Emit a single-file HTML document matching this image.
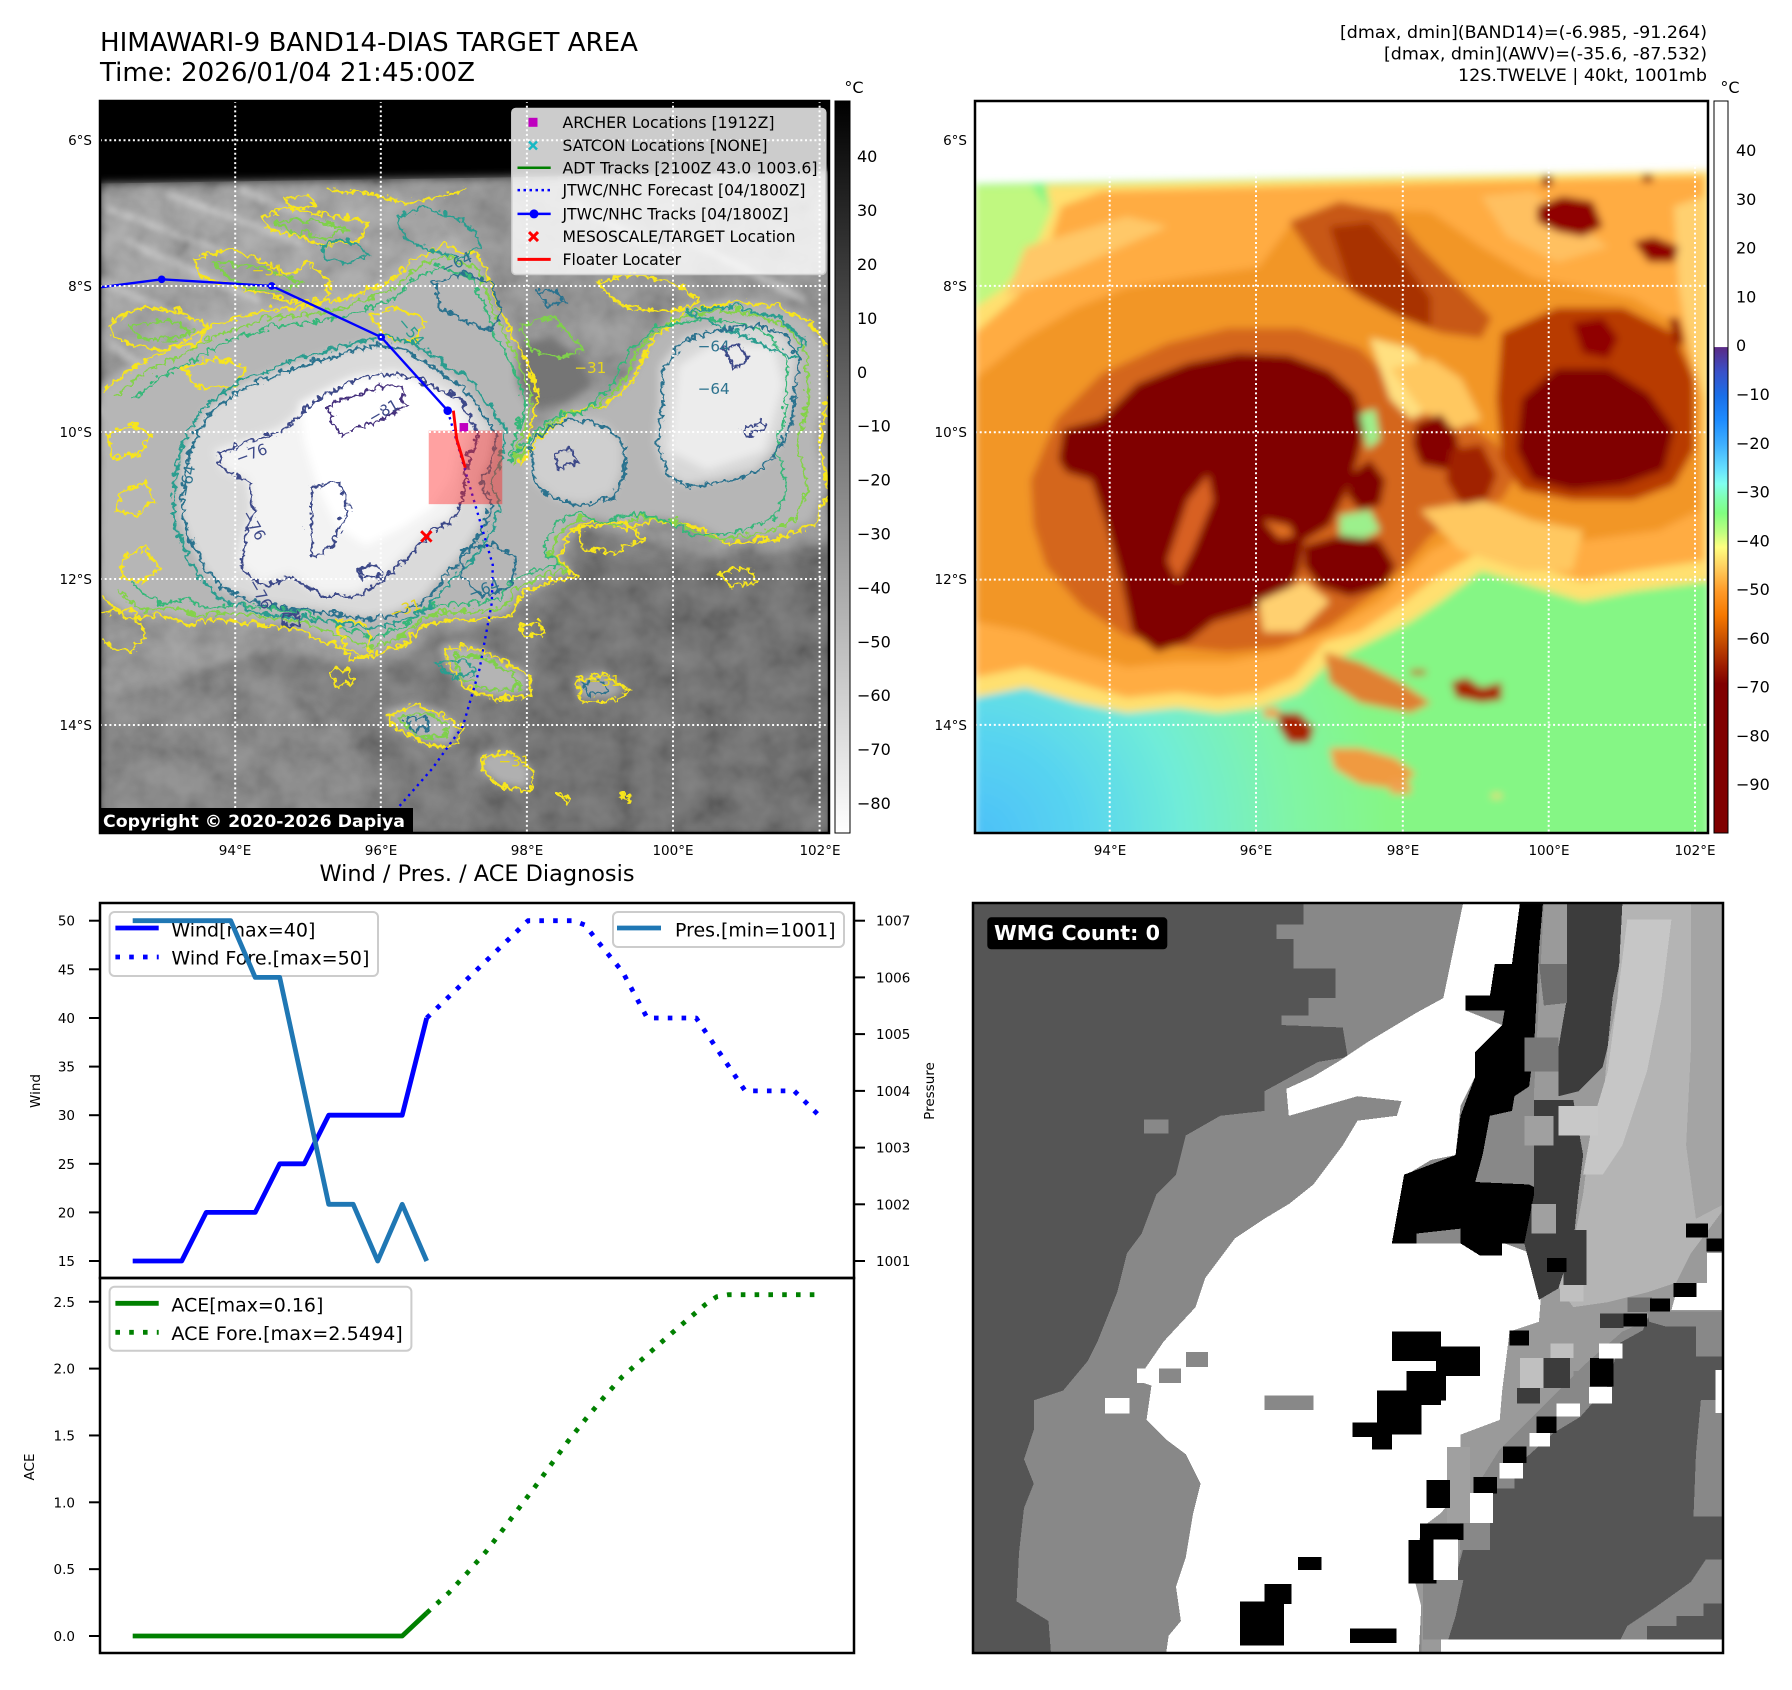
<!DOCTYPE html>
<html><head><meta charset="utf-8"><style>
html,body{margin:0;padding:0;background:#fff;}
svg{display:block;}
text{font-family:"DejaVu Sans","Liberation Sans",sans-serif;}
</style></head><body>
<svg xmlns="http://www.w3.org/2000/svg" xmlns:xlink="http://www.w3.org/1999/xlink" width="1792" height="1690" viewBox="0 0 1792 1690">
<defs>
 <clipPath id="cL"><rect x="100" y="101" width="729" height="732"/></clipPath>
 <clipPath id="cR"><rect x="975" y="101" width="733" height="732"/></clipPath>
 <clipPath id="cB"><rect x="973" y="903" width="750" height="750"/></clipPath>
 <clipPath id="cT"><rect x="100" y="903" width="754" height="375"/></clipPath>
 <clipPath id="cA"><rect x="100" y="1278" width="754" height="375"/></clipPath>
 <filter id="blur8" x="-5%" y="-5%" width="110%" height="110%"><feGaussianBlur stdDeviation="9"/></filter>
 <filter id="blur5" x="-5%" y="-5%" width="110%" height="110%"><feGaussianBlur stdDeviation="8"/></filter>
 <filter id="blur3" x="-10%" y="-10%" width="120%" height="120%"><feGaussianBlur stdDeviation="6"/></filter>
 <filter id="wig" x="-5%" y="-5%" width="110%" height="110%">
   <feTurbulence type="turbulence" baseFrequency="0.045" numOctaves="2" seed="7" result="t"/>
   <feDisplacementMap in="SourceGraphic" in2="t" scale="22" xChannelSelector="R" yChannelSelector="G"/>
 </filter>
 <filter id="noise" x="0" y="0" width="100%" height="100%">
   <feTurbulence type="fractalNoise" baseFrequency="0.015" numOctaves="3" seed="11"/>
   <feColorMatrix type="matrix" values="1 0 0 0 0  1 0 0 0 0  1 0 0 0 0  0 0 0 0 0.25"/>
   <feComposite in2="SourceGraphic" operator="in"/>
 </filter>
 <linearGradient id="gGray" x1="0" y1="0" x2="0" y2="1">
   <stop offset="0" stop-color="#000"/><stop offset="1" stop-color="#fff"/>
 </linearGradient>
 <linearGradient id="gCol" x1="0" y1="0" x2="0" y2="1">
   <stop offset="0" stop-color="#fff"/>
   <stop offset="0.336" stop-color="#fff"/>
   <stop offset="0.3365" stop-color="#5b2a86"/>
   <stop offset="0.3696" stop-color="#3a50c8"/>
   <stop offset="0.4029" stop-color="#1a6fe8"/>
   <stop offset="0.4362" stop-color="#1e8cff"/>
   <stop offset="0.4696" stop-color="#3fb0ff"/>
   <stop offset="0.5029" stop-color="#66e0ff"/>
   <stop offset="0.5229" stop-color="#80fff0"/>
   <stop offset="0.5429" stop-color="#80ffb0"/>
   <stop offset="0.5629" stop-color="#80ff80"/>
   <stop offset="0.5895" stop-color="#c0ff80"/>
   <stop offset="0.6095" stop-color="#ffff80"/>
   <stop offset="0.6362" stop-color="#ffd060"/>
   <stop offset="0.6696" stop-color="#ff9a28"/>
   <stop offset="0.7029" stop-color="#f57800"/>
   <stop offset="0.7362" stop-color="#c85000"/>
   <stop offset="0.7696" stop-color="#a02000"/>
   <stop offset="0.7962" stop-color="#800000"/>
   <stop offset="1" stop-color="#800000"/>
 </linearGradient>
 <radialGradient id="cyg" gradientUnits="userSpaceOnUse" cx="0" cy="1470" r="820">
   <stop offset="0" stop-color="#4cc0f8"/>
   <stop offset="0.25" stop-color="#58d4f0"/>
   <stop offset="0.5" stop-color="#70ecd8"/>
   <stop offset="0.75" stop-color="#80f4a8"/>
   <stop offset="1" stop-color="#85f685"/>
 </radialGradient>
 <path id="ym" fill="none" d="M0,610 L60,560 140,520 230,470 330,440 430,430 520,410 600,380 660,330 720,300 800,330 830,420 870,500 900,560 920,620 900,690 880,760 930,700 990,650 1060,640 1120,580 1160,500 1230,440 1330,420 1420,430 1490,460 1530,520 1530,620 1510,720 1530,820 1500,890 1420,920 1320,930 1240,890 1160,880 1100,900 1040,880 990,900 960,960 1000,1000 940,1010 880,1040 860,1080 800,1090 740,1090 680,1100 640,1140 560,1170 480,1140 400,1110 320,1100 240,1090 180,1100 120,1080 60,1090 20,1060 0,1040"/>
 <path id="tc" fill="none" d="M170,820 L180,740 220,660 300,600 400,560 500,530 580,510 640,520 700,560 760,600 800,650 830,700 820,760 800,800 820,850 800,900 760,960 720,1000 680,1050 620,1080 560,1090 500,1080 420,1070 340,1060 260,1030 220,990 190,930 170,880 Z"/>
 <path id="tr" fill="none" d="M1180,560 L1230,500 1300,480 1380,470 1440,490 1470,540 1460,610 1450,680 1420,740 1380,780 1300,800 1230,810 1190,780 1170,720 1180,640 Z"/>
</defs>

<rect x="0" y="0" width="1792" height="1690" fill="#fff"/>

<!-- Titles -->
<text x="100" y="51" font-size="26" textLength="538" lengthAdjust="spacingAndGlyphs">HIMAWARI-9 BAND14-DIAS TARGET AREA</text>
<text x="100" y="81" font-size="26" textLength="375" lengthAdjust="spacingAndGlyphs">Time: 2026/01/04 21:45:00Z</text>
<text x="1707" y="38" font-size="16.5" text-anchor="end" textLength="367" lengthAdjust="spacingAndGlyphs">[dmax, dmin](BAND14)=(-6.985, -91.264)</text>
<text x="1707" y="59.5" font-size="16.5" text-anchor="end" textLength="323" lengthAdjust="spacingAndGlyphs">[dmax, dmin](AWV)=(-35.6, -87.532)</text>
<text x="1707" y="81" font-size="16.5" text-anchor="end" textLength="249" lengthAdjust="spacingAndGlyphs">12S.TWELVE | 40kt, 1001mb</text>

<!-- ================= LEFT MAP ================= -->
<g clip-path="url(#cL)">
 <g transform="translate(100,100) scale(0.474359)">
  <rect x="0" y="0" width="1560" height="1560" fill="#000"/>
  <g filter="url(#blur8)">
   <polygon points="0,176 860,163 1545,150 1545,1550 0,1550" fill="#686868"/>
   <polygon points="0,176 860,163 1545,150 1545,930 1420,950 1300,960 1150,930 1020,900 960,980 900,1060 800,1110 700,1130 620,1190 480,1190 380,1160 280,1180 150,1230 0,1260" fill="#8a8a8a"/>
   <polygon points="960,1000 1100,960 1300,990 1545,960 1545,1550 760,1550 820,1420 900,1250 940,1120" fill="#5c5c5c"/>
   <polygon points="0,1260 150,1230 300,1200 450,1250 560,1380 600,1550 0,1550" fill="#787878"/>
   <polygon points="0,200 300,190 560,185 700,210 760,300 700,370 560,420 400,440 250,480 120,530 0,560" fill="#9c9c9c"/>
  </g>
  <g filter="url(#blur3)" stroke="#c4c4c4" stroke-width="16" opacity="0.75" stroke-linecap="round">
   <line x1="20" y1="230" x2="260" y2="320"/><line x1="60" y1="300" x2="330" y2="420"/><line x1="0" y1="380" x2="200" y2="470"/>
   <line x1="150" y1="200" x2="420" y2="300"/><line x1="300" y1="190" x2="560" y2="300"/><line x1="30" y1="520" x2="160" y2="610"/>
   <line x1="0" y1="650" x2="120" y2="760"/><line x1="1250" y1="300" x2="1480" y2="420"/><line x1="1000" y1="220" x2="1200" y2="330"/>
  </g>
  <polygon points="0,176 860,163 1545,150 1545,1550 0,1550" fill="#808080" filter="url(#noise)"/>
  <g filter="url(#blur8)">
   <polygon points="880,520 950,500 1010,540 1040,600 980,640 910,650 880,600" fill="#6a6a6a"/>
   <path d="M0,610 L60,560 140,520 230,470 330,440 430,430 520,410 600,380 660,330 720,300 800,330 830,420 870,500 900,560 920,620 900,690 880,760 930,700 990,650 1060,640 1120,580 1160,500 1230,440 1330,420 1420,430 1490,460 1530,520 1530,620 1510,720 1530,820 1500,890 1420,920 1320,930 1240,890 1160,880 1100,900 1040,880 990,900 960,960 1000,1000 940,1010 880,1040 860,1080 800,1090 740,1090 680,1100 640,1140 560,1170 480,1140 400,1110 320,1100 240,1090 180,1100 120,1080 60,1090 20,1060 0,1040 Z" fill="#b6b6b6"/>
   <polygon points="880,520 950,500 1010,540 1040,600 980,640 910,650 880,600" fill="#747474"/>
   <polygon points="720,1150 790,1150 850,1180 900,1210 900,1250 830,1260 760,1230 730,1190" fill="#b4b4b4"/>
   <polygon points="600,1290 660,1270 720,1290 760,1320 740,1360 680,1352 620,1322" fill="#b4b4b4"/>
   <polygon points="800,1380 860,1368 910,1410 900,1452 840,1442 800,1410" fill="#b0b0b0"/>
   <polygon points="1000,1220 1060,1205 1110,1240 1080,1262 1010,1262" fill="#aaaaaa"/>
   <path d="M170,820 L180,740 220,660 300,600 400,560 500,530 580,510 640,520 700,560 760,600 800,650 830,700 820,760 800,800 820,850 800,900 760,960 720,1000 680,1050 620,1080 560,1090 500,1080 420,1070 340,1060 260,1030 220,990 190,930 170,880 Z" fill="#dadada"/>
   <path d="M1180,560 L1230,500 1300,480 1380,470 1440,490 1470,540 1460,610 1450,680 1420,740 1380,780 1300,800 1230,810 1190,780 1170,720 1180,640 Z" fill="#d8d8d8"/>
   <polygon points="900,720 950,680 1000,670 1060,680 1100,720 1100,780 1080,830 1020,850 960,840 910,800" fill="#cfcfcf"/>
   <polygon points="240,740 300,720 380,690 460,620 540,580 620,570 700,600 760,630 790,700 770,760 760,830 740,880 700,900 640,960 600,1000 540,1040 460,1040 400,1000 340,1020 290,980 300,920 320,860 310,800 260,780" fill="#f3f3f3"/>
   <polygon points="1220,560 1300,510 1420,520 1440,600 1400,740 1280,780 1200,740" fill="#ececec"/>
   <polygon points="420,640 520,590 640,580 720,620 760,700 740,800 700,860 640,900 560,940 500,900 460,820 430,720" fill="#ffffff"/>
  </g>
  <!-- contours -->
  <g filter="url(#wig)" fill="none" stroke-width="5" stroke-linejoin="round">
   <use xlink:href="#ym" href="#ym" stroke="#f7e51f"/>
   <use xlink:href="#ym" href="#ym" stroke="#84d24a" transform="translate(640,760) scale(0.95) translate(-640,-760)"/>
   <use xlink:href="#ym" href="#ym" stroke="#35b779" transform="translate(640,760) scale(0.9) translate(-640,-760)"/>
   <g stroke="#f7e51f">
    <polygon points="190,330 260,310 330,330 390,360 440,340 480,380 470,420 400,420 330,400 250,380 200,360"/>
    <polygon points="340,240 400,222 480,240 560,250 540,290 470,300 400,280 350,270"/>
    <polygon points="20,460 80,430 160,440 220,470 200,510 120,520 60,510 20,490"/>
    <polyline points="480,185 560,190 640,212 700,200 770,180"/>
    <polygon points="560,450 620,430 680,460 660,500 600,500"/>
    <polygon points="170,560 240,540 300,560 280,600 200,600"/>
    <polygon points="10,700 60,680 100,700 80,740 20,750"/>
    <polygon points="1040,380 1120,360 1200,380 1260,420 1200,440 1100,430"/>
    <polygon points="720,1150 790,1150 850,1180 900,1210 900,1250 830,1260 760,1230 730,1190"/>
    <polygon points="1000,1220 1060,1205 1110,1240 1080,1262 1010,1262"/>
    <polygon points="600,1290 660,1270 720,1290 760,1320 740,1360 680,1352 620,1322"/>
    <polygon points="800,1380 860,1368 910,1410 900,1452 840,1442 800,1410"/>
    <polygon points="495,1090 560,1100 565,1160 520,1175"/>
    <polyline points="0,1080 60,1062 90,1120 60,1160 20,1150 0,1130"/>
    <polygon points="1000,900 1100,880 1140,920 1080,950 1010,940"/>
    <polygon points="960,1460 985,1462 980,1478"/>
    <polygon points="1090,1460 1112,1458 1108,1474"/>
    <polygon points="380,200 430,195 450,215 400,225"/>
    <polygon points="40,820 90,800 110,840 70,870 30,860"/>
    <polygon points="40,960 90,940 120,980 80,1010 40,1000"/>
    <polygon points="1300,990 1360,980 1380,1010 1320,1020"/>
    <polygon points="880,1100 920,1095 930,1120 890,1125"/>
    <polygon points="480,1200 520,1195 530,1225 490,1230"/>
   </g>
   <g stroke="#7fd04c">
    <polygon points="740,1165 800,1168 860,1200 880,1235 820,1240 760,1215"/>
    <polygon points="625,1295 680,1285 730,1310 720,1340 660,1335"/>
    <polygon points="230,340 330,345 420,380 380,400 300,390"/>
    <polygon points="880,470 950,450 1010,520 960,540 900,520"/>
    <polygon points="60,470 140,460 190,480 150,500 80,495"/>
    <polygon points="360,250 450,250 520,265 470,285 400,275"/>
   </g>
   <g stroke="#2a9d8f">
    <use xlink:href="#tc" href="#tc" transform="translate(500,800) scale(1.06) translate(-500,-800)"/>
    <polygon points="620,240 680,220 760,250 800,300 760,330 690,310 640,290"/>
    <polygon points="1230,440 1320,430 1420,450 1480,500 1460,540"/>
    <polygon points="460,300 520,290 560,320 520,340 470,330"/>
    <polygon points="700,1180 760,1175 790,1200 740,1215"/>
   </g>
   <g stroke="#2c728e">
    <use xlink:href="#tc" href="#tc"/>
    <use xlink:href="#tr" href="#tr"/>
    <polygon points="900,720 950,680 1000,670 1060,680 1100,720 1100,780 1080,830 1020,850 960,840 910,800"/>
    <polygon points="700,380 760,360 820,380 840,440 820,480 760,460 710,430"/>
    <polygon points="760,940 820,930 870,960 860,1020 800,1040 760,1000"/>
    <polygon points="1010,1225 1050,1218 1070,1240 1030,1250"/>
    <polygon points="640,1300 680,1295 690,1320 650,1325"/>
    <polygon points="920,400 960,395 975,420 935,428"/>
   </g>
   <g stroke="#3e4a89">
    <polygon points="240,740 300,720 380,690 460,620 540,580 620,570 700,600 760,630 790,700 770,760 760,830 740,880 700,900 640,960 600,1000 540,1040 460,1040 400,1000 340,1020 290,980 300,920 320,860 310,800 260,780"/>
    <polygon points="440,810 500,800 520,860 480,940 440,960 440,880"/>
    <polygon points="1350,690 1390,670 1400,690 1360,702"/>
    <polygon points="1310,520 1340,510 1360,540 1330,560"/>
    <polygon points="950,740 990,730 1000,760 960,770"/>
    <polygon points="540,980 580,975 590,1000 550,1005"/>
    <polygon points="380,1080 410,1075 415,1100 385,1105"/>
   </g>
   <g stroke="#46337e">
    <polygon points="470,640 520,620 580,600 630,600 640,640 600,660 560,680 500,700"/>
   </g>
  </g>
  <!-- contour labels -->
  <g font-size="32" font-family="DejaVu Sans, sans-serif">
   <text x="720" y="360" fill="#2c728e" transform="rotate(-25 740 350)">−64</text>
   <text x="630" y="490" fill="#2a9d8f" transform="rotate(50 650 475)">−54</text>
   <text x="560" y="670" fill="#3e4a89" transform="rotate(-30 590 650)">−81</text>
   <text x="285" y="760" fill="#3e4a89" transform="rotate(-20 310 745)">−76</text>
   <text x="165" y="850" fill="#2c728e" transform="rotate(-80 170 830)">−64</text>
   <text x="305" y="900" fill="#3e4a89" transform="rotate(60 325 880)">−76</text>
   <text x="310" y="1040" fill="#3e4a89" transform="rotate(60 330 1030)">−76</text>
   <text x="320" y="370" fill="#e8d61c">−31</text>
   <text x="1000" y="575" fill="#e8d61c">−31</text>
   <text x="1260" y="530" fill="#2c728e">−64</text>
   <text x="1260" y="620" fill="#2c728e">−64</text>
   <text x="775" y="1045" fill="#2c728e" transform="rotate(-20 800 1030)">−64</text>
   <text x="610" y="1085" fill="#e8d61c" transform="rotate(-20 640 1075)">−31</text>
   <text x="1030" y="1235" fill="#e8d61c">−31</text>
   <text x="840" y="1405" fill="#e8d61c">−31</text>
  </g>
  <!-- track overlays -->
  <polyline points="0,395 130,378 362,392 593,500 733,655" fill="none" stroke="#0000ff" stroke-width="5"/>
  <polyline points="733,655 790,850 828,980 826,1060 800,1200 765,1320 700,1410 630,1490 590,1550" fill="none" stroke="#0000ff" stroke-width="5" stroke-dasharray="5 9"/>
  <g fill="#0000ff"><circle cx="130" cy="378" r="8"/><circle cx="362" cy="392" r="8"/><circle cx="593" cy="500" r="8"/><circle cx="733" cy="655" r="9"/></g>
  <rect x="693" y="697" width="155" height="155" fill="#ff2020" opacity="0.42"/>
  <polyline points="745,655 752,715 770,775" fill="none" stroke="#ff0000" stroke-width="6"/>
  <rect x="758" y="681" width="18" height="18" fill="#c000c0"/>
  <g stroke="#ff0000" stroke-width="6"><line x1="677" y1="909" x2="699" y2="931"/><line x1="699" y1="909" x2="677" y2="931"/></g>
 </g>
 <!-- gridlines -->
 <g stroke="#fff" stroke-width="2" stroke-dasharray="2 2.7">
  <line x1="235.2" y1="101" x2="235.2" y2="833"/><line x1="380.8" y1="101" x2="380.8" y2="833"/><line x1="526.9" y1="101" x2="526.9" y2="833"/><line x1="673" y1="101" x2="673" y2="833"/><line x1="819.6" y1="101" x2="819.6" y2="833"/>
  <line x1="100" y1="140.3" x2="829" y2="140.3"/><line x1="100" y1="286" x2="829" y2="286"/><line x1="100" y1="432" x2="829" y2="432"/><line x1="100" y1="579" x2="829" y2="579"/><line x1="100" y1="725" x2="829" y2="725"/>
 </g>
 <!-- legend -->
 <rect x="511.8" y="108.5" width="314" height="166" rx="4" fill="#fff" fill-opacity="0.8" stroke="#cccccc" stroke-width="1.5"/>
 <rect x="528.5" y="117.8" width="9" height="9" fill="#bf00bf"/>
 <g stroke="#17b8c4" stroke-width="2.5"><line x1="529" y1="141.5" x2="537" y2="149.5"/><line x1="537" y1="141.5" x2="529" y2="149.5"/></g>
 <line x1="517.5" y1="167.8" x2="550.7" y2="167.8" stroke="#008000" stroke-width="2.5"/>
 <line x1="517.5" y1="190.1" x2="550.7" y2="190.1" stroke="#0000ff" stroke-width="2.5" stroke-dasharray="2.5 3.5"/>
 <line x1="517.5" y1="213.9" x2="550.7" y2="213.9" stroke="#0000ff" stroke-width="2.5"/>
 <circle cx="534" cy="213.9" r="4.5" fill="#0000ff"/>
 <g stroke="#ff0000" stroke-width="3"><line x1="529" y1="232.1" x2="538" y2="241.1"/><line x1="538" y1="232.1" x2="529" y2="241.1"/></g>
 <line x1="517.5" y1="259.4" x2="550.7" y2="259.4" stroke="#ff0000" stroke-width="3"/>
 <g font-size="15.7" fill="#000">
  <text x="562.5" y="127.8" textLength="212" lengthAdjust="spacingAndGlyphs">ARCHER Locations [1912Z]</text>
  <text x="562.5" y="151" textLength="205" lengthAdjust="spacingAndGlyphs">SATCON Locations [NONE]</text>
  <text x="562.5" y="173.3" textLength="255" lengthAdjust="spacingAndGlyphs">ADT Tracks [2100Z 43.0 1003.6]</text>
  <text x="562.5" y="195.6" textLength="243" lengthAdjust="spacingAndGlyphs">JTWC/NHC Forecast [04/1800Z]</text>
  <text x="562.5" y="219.4" textLength="226" lengthAdjust="spacingAndGlyphs">JTWC/NHC Tracks [04/1800Z]</text>
  <text x="562.5" y="242.1" textLength="233" lengthAdjust="spacingAndGlyphs">MESOSCALE/TARGET Location</text>
  <text x="562.5" y="264.9" textLength="118.6" lengthAdjust="spacingAndGlyphs">Floater Locater</text>
 </g>
 <rect x="100" y="808" width="313" height="25" fill="#000"/>
 <text x="103" y="827" font-size="17" font-weight="bold" fill="#fff" textLength="302" lengthAdjust="spacingAndGlyphs">Copyright © 2020-2026 Dapiya</text>
</g>
<rect x="100" y="101" width="729" height="732" fill="none" stroke="#000" stroke-width="2.5"/>
<!-- left map labels -->
<g font-size="13.5" fill="#000">
 <g text-anchor="end">
  <text x="92" y="145">6°S</text><text x="92" y="291">8°S</text><text x="92" y="437">10°S</text><text x="92" y="584">12°S</text><text x="92" y="730">14°S</text>
 </g>
 <g text-anchor="middle">
  <text x="235" y="855">94°E</text><text x="381" y="855">96°E</text><text x="527" y="855">98°E</text><text x="673" y="855">100°E</text><text x="820" y="855">102°E</text>
 </g>
</g>
<!-- left colorbar -->
<rect x="835" y="101" width="15" height="732" fill="url(#gGray)" stroke="#000" stroke-width="1"/>
<text x="854" y="93" font-size="16" text-anchor="middle">°C</text>
<g font-size="16" fill="#000">
 <text x="857" y="162.2">40</text><text x="857" y="216.1">30</text><text x="857" y="270">20</text><text x="857" y="323.9">10</text><text x="857" y="377.8">0</text>
 <text x="857" y="431.7">−10</text><text x="857" y="485.6">−20</text><text x="857" y="539.5">−30</text><text x="857" y="593.4">−40</text><text x="857" y="647.3">−50</text>
 <text x="857" y="701.2">−60</text><text x="857" y="755.1">−70</text><text x="857" y="809">−80</text>
</g>

<!-- ================= RIGHT MAP ================= -->
<g clip-path="url(#cR)">
 <g transform="translate(975,95) scale(0.50641)">
  <rect x="0" y="0" width="1560" height="1560" fill="#fff"/>
  <g filter="url(#blur5)">
   <polygon points="0,176 1000,158 1450,150 1450,1470 0,1470" fill="url(#cyg)"/>
   <polygon points="0,180 110,178 150,230 120,300 60,380 0,420" fill="#c0f880"/>
   <polygon points="0,420 60,380 120,300 150,230 140,178 1450,150 1450,960 1300,980 1200,1000 1100,970 1000,940 920,1000 860,1040 760,1090 700,1120 640,1180 560,1210 480,1220 400,1210 300,1220 200,1200 100,1170 0,1190" fill="#ffe070"/>
   <polygon points="0,470 80,400 140,320 170,220 250,190 1440,160 1440,920 1300,940 1200,960 1100,930 1000,900 900,960 850,1000 760,1060 690,1080 630,1150 560,1180 480,1190 400,1180 300,1190 200,1160 100,1130 0,1150" fill="#ffac42"/>
   <polygon points="100,300 300,240 380,260 200,340 60,400" fill="#ffc868"/>
   <polygon points="0,560 100,480 200,420 300,380 420,360 560,340 620,260 700,220 900,230 1000,300 1100,360 1200,380 1300,400 1400,460 1430,600 1430,820 1350,860 1200,880 1100,870 1000,850 900,900 800,1000 700,1060 600,1100 500,1120 400,1120 300,1130 200,1100 100,1060 0,1040" fill="#f29628"/>
   <polygon points="1380,220 1440,200 1440,600 1410,500 1390,380" fill="#ffd070"/>
   <polygon points="1000,200 1100,190 1250,300 1150,330 1050,280" fill="#ffc060"/>
   <polygon points="110,760 160,640 250,550 380,490 500,460 640,460 760,500 830,570 860,630 950,630 1030,690 1070,750 1040,800 960,830 900,870 850,930 780,990 700,1050 600,1090 500,1100 400,1090 300,1070 210,1010 140,930 115,850" fill="#d4661c"/>
   <polygon points="620,250 720,210 820,230 880,300 960,380 1020,440 1000,480 920,470 840,440 760,400 680,340" fill="#c85818"/>
   <polygon points="700,260 780,250 840,320 900,400 900,460 820,430 740,380" fill="#a83000"/>
   <polygon points="780,480 860,500 920,560 900,620 860,640 820,600" fill="#ffe080"/>
   <polygon points="820,540 900,520 960,560 1000,640 950,660 880,620" fill="#ffc860"/>
   <polygon points="880,820 1000,800 1100,840 1200,860 1180,940 1080,940 960,900" fill="#ffc860"/>
   <polygon points="1040,470 1150,420 1280,420 1380,470 1420,560 1420,700 1380,770 1300,800 1180,800 1080,780 1040,720 1030,600" fill="#b83a00"/>
   <polygon points="1080,600 1150,540 1250,540 1330,590 1380,660 1360,740 1280,770 1180,780 1100,760 1070,700" fill="#800000"/>
   <polygon points="1180,450 1240,440 1270,480 1250,520 1200,510" fill="#900000"/>
   <polygon points="165,720 175,660 250,640 320,570 420,530 520,510 620,515 700,545 750,590 770,650 755,720 730,790 700,850 650,880 640,940 610,1000 540,1020 470,1040 420,1080 360,1100 310,1060 290,960 260,850 230,760 180,745" fill="#800000"/>
   <polygon points="380,920 420,800 460,750 470,800 430,900 400,960" fill="#d86020"/>
   <polygon points="570,840 620,850 630,870 600,875" fill="#e07020"/>
   <polygon points="760,630 790,620 800,680 775,700" fill="#9cf08c"/>
   <polygon points="720,830 780,820 800,860 760,880 720,870" fill="#9cf08c"/>
   <polygon points="650,890 720,870 800,880 830,930 810,970 740,990 680,970 650,930" fill="#800000"/>
   <polygon points="740,750 780,720 810,760 800,810 760,820 735,790" fill="#800000"/>
   <polygon points="870,650 920,630 950,670 960,720 930,740 880,730 865,690" fill="#850000"/>
   <polygon points="940,700 1000,690 1030,750 1010,800 960,810 930,760" fill="#a02000"/>
   <polygon points="1110,220 1160,200 1220,210 1240,260 1200,280 1150,270 1110,250" fill="#900000"/>
   <polygon points="1300,290 1340,280 1390,300 1380,330 1330,330" fill="#900000"/>
   <polygon points="1370,440 1390,440 1400,490 1385,495" fill="#900000"/>
   <polygon points="1318,158 1338,158 1338,172 1318,172" fill="#900000"/>
   <polygon points="1120,160 1140,160 1140,180 1120,180" fill="#900000"/>
   <polygon points="560,1000 650,960 700,1000 640,1060 570,1060" fill="#ffd070"/>
   <polygon points="690,1100 760,1120 840,1160 900,1200 860,1220 760,1200 700,1160" fill="#e08030"/>
   <polygon points="940,1160 970,1150 1000,1170 1040,1160 1040,1195 1000,1200 950,1190" fill="#a82800"/>
   <polygon points="860,1135 890,1135 890,1145 860,1145" fill="#c05010"/>
   <polygon points="600,1220 640,1220 670,1250 660,1280 620,1280 600,1250" fill="#a82000"/>
   <polygon points="570,1210 600,1210 600,1230 570,1230" fill="#f0a050"/>
   <polygon points="700,1290 760,1290 830,1310 870,1340 830,1370 760,1360 710,1330" fill="#f09a40"/>
   <polygon points="820,1350 860,1360 860,1380 820,1380" fill="#f0a050"/>
   <polygon points="1020,1380 1040,1380 1040,1388 1020,1388" fill="#ffd070"/>
  </g>
 </g>
 <g stroke="#fff" stroke-width="2" stroke-dasharray="2 2.7">
  <line x1="1109.7" y1="101" x2="1109.7" y2="833"/><line x1="1256" y1="101" x2="1256" y2="833"/><line x1="1402.8" y1="101" x2="1402.8" y2="833"/><line x1="1548.7" y1="101" x2="1548.7" y2="833"/><line x1="1695" y1="101" x2="1695" y2="833"/>
  <line x1="975" y1="139.6" x2="1708" y2="139.6"/><line x1="975" y1="285.9" x2="1708" y2="285.9"/><line x1="975" y1="432.2" x2="1708" y2="432.2"/><line x1="975" y1="579.6" x2="1708" y2="579.6"/><line x1="975" y1="724.9" x2="1708" y2="724.9"/>
 </g>
</g>
<rect x="975" y="101" width="733" height="732" fill="none" stroke="#000" stroke-width="2.5"/>
<g font-size="13.5" fill="#000">
 <g text-anchor="end">
  <text x="967" y="145">6°S</text><text x="967" y="291">8°S</text><text x="967" y="437">10°S</text><text x="967" y="584">12°S</text><text x="967" y="730">14°S</text>
 </g>
 <g text-anchor="middle">
  <text x="1110" y="855">94°E</text><text x="1256" y="855">96°E</text><text x="1403" y="855">98°E</text><text x="1549" y="855">100°E</text><text x="1695" y="855">102°E</text>
 </g>
</g>
<rect x="1714" y="101" width="14" height="732" fill="url(#gCol)" stroke="#000" stroke-width="1"/>
<text x="1730" y="93" font-size="16" text-anchor="middle">°C</text>
<g font-size="16" fill="#000">
 <text x="1736" y="156.2">40</text><text x="1736" y="205">30</text><text x="1736" y="253.7">20</text><text x="1736" y="302.5">10</text><text x="1736" y="351.2">0</text>
 <text x="1736" y="400">−10</text><text x="1736" y="448.8">−20</text><text x="1736" y="497.5">−30</text><text x="1736" y="546.3">−40</text><text x="1736" y="595">−50</text>
 <text x="1736" y="643.8">−60</text><text x="1736" y="692.6">−70</text><text x="1736" y="741.3">−80</text><text x="1736" y="790.1">−90</text>
</g>

<!-- ================= BOTTOM LEFT CHARTS ================= -->
<text x="477" y="881" font-size="22" text-anchor="middle" textLength="315" lengthAdjust="spacingAndGlyphs">Wind / Pres. / ACE Diagnosis</text>
<g clip-path="url(#cT)" fill="none" stroke-linejoin="round">
 <polyline points="132.7,1261 157.2,1261 181.7,1261 206.2,1212.4 230.7,1212.4 255.2,1212.4 279.7,1163.8 304.2,1163.8 328.7,1115.2 353.2,1115.2 377.7,1115.2 402.2,1115.2 426.7,1018" stroke="#0000ff" stroke-width="4.8"/>
 <polyline points="426.7,1018 528,920.7 573.7,920.7 585,925 598.2,942 622.7,972 647.2,1018 671.7,1018 696.2,1018 720.7,1054.4 745.2,1090.9 769.7,1090.9 794.2,1090.9 818.7,1115.2" stroke="#0000ff" stroke-width="4.8" stroke-dasharray="4.6 9.2"/>
</g>
<rect x="109.6" y="912" width="268.4" height="64" rx="5" fill="#fff" fill-opacity="0.8" stroke="#cccccc" stroke-width="2"/>
<line x1="115.4" y1="928" x2="158.7" y2="928" stroke="#0000ff" stroke-width="4.8"/>
<line x1="115.4" y1="957" x2="158.7" y2="957" stroke="#0000ff" stroke-width="4.8" stroke-dasharray="4.6 9.2"/>
<text x="171.4" y="936.7" font-size="19" textLength="144" lengthAdjust="spacingAndGlyphs">Wind[max=40]</text>
<text x="171.4" y="964.3" font-size="19" textLength="198" lengthAdjust="spacingAndGlyphs">Wind Fore.[max=50]</text>
<g clip-path="url(#cT)">
 <polyline points="132.7,920.7 157.2,920.7 181.7,920.7 206.2,920.7 230.7,920.7 255.2,977.4 279.7,977.4 328.7,1204.3 353.2,1204.3 377.7,1261 402.2,1204.3 426.7,1261" fill="none" stroke="#1f77b4" stroke-width="4.8" stroke-linejoin="round"/>
</g>
<rect x="613" y="912" width="231" height="35" rx="5" fill="#fff" fill-opacity="0.8" stroke="#cccccc" stroke-width="2"/>
<line x1="617" y1="928" x2="661" y2="928" stroke="#1f77b4" stroke-width="4.8"/>
<text x="675" y="936.7" font-size="19" textLength="160.5" lengthAdjust="spacingAndGlyphs">Pres.[min=1001]</text>

<g clip-path="url(#cA)" fill="none" stroke-linejoin="round">
 <polyline points="132.7,1636 402.2,1636 426.7,1613" stroke="#008000" stroke-width="4.8"/>
 <polyline points="426.7,1613 448.9,1592.7 467.4,1572.7 485.9,1551.7 502.6,1530 519.3,1507.7 536.1,1485.3 552.2,1463 568.4,1440.7 585.7,1419 603.6,1397.7 622,1377 642.8,1358.7 663.6,1340.3 684.4,1322.3 705.1,1304.7 716.7,1296.7 728.2,1294.7 818.7,1294.7" stroke="#008000" stroke-width="4.8" stroke-dasharray="4.6 9.2"/>
</g>
<rect x="109.6" y="1286.7" width="301.8" height="64" rx="5" fill="#fff" fill-opacity="0.8" stroke="#cccccc" stroke-width="2"/>
<line x1="115.4" y1="1303.3" x2="158.7" y2="1303.3" stroke="#008000" stroke-width="4.8"/>
<line x1="115.4" y1="1332.3" x2="158.7" y2="1332.3" stroke="#008000" stroke-width="4.8" stroke-dasharray="4.6 9.2"/>
<text x="171.4" y="1311.7" font-size="19" textLength="152" lengthAdjust="spacingAndGlyphs">ACE[max=0.16]</text>
<text x="171.4" y="1340" font-size="19" textLength="231.4" lengthAdjust="spacingAndGlyphs">ACE Fore.[max=2.5494]</text>

<rect x="100" y="903" width="754" height="375" fill="none" stroke="#000" stroke-width="2.5"/>
<rect x="100" y="1278" width="754" height="375" fill="none" stroke="#000" stroke-width="2.5"/>
<!-- ticks -->
<g stroke="#000" stroke-width="2">
 <line x1="89" y1="920.7" x2="100" y2="920.7"/><line x1="89" y1="969.3" x2="100" y2="969.3"/><line x1="89" y1="1018" x2="100" y2="1018"/><line x1="89" y1="1066.6" x2="100" y2="1066.6"/>
 <line x1="89" y1="1115.2" x2="100" y2="1115.2"/><line x1="89" y1="1163.8" x2="100" y2="1163.8"/><line x1="89" y1="1212.4" x2="100" y2="1212.4"/><line x1="89" y1="1261" x2="100" y2="1261"/>
 <line x1="854" y1="920.7" x2="865" y2="920.7"/><line x1="854" y1="977.4" x2="865" y2="977.4"/><line x1="854" y1="1034.1" x2="865" y2="1034.1"/><line x1="854" y1="1090.9" x2="865" y2="1090.9"/>
 <line x1="854" y1="1147.6" x2="865" y2="1147.6"/><line x1="854" y1="1204.3" x2="865" y2="1204.3"/><line x1="854" y1="1261" x2="865" y2="1261"/>
 <line x1="89" y1="1301.75" x2="100" y2="1301.75"/><line x1="89" y1="1368.6" x2="100" y2="1368.6"/><line x1="89" y1="1435.45" x2="100" y2="1435.45"/>
 <line x1="89" y1="1502.3" x2="100" y2="1502.3"/><line x1="89" y1="1569.15" x2="100" y2="1569.15"/><line x1="89" y1="1636" x2="100" y2="1636"/>
</g>
<g font-size="13.5" fill="#000">
 <g text-anchor="end">
  <text x="75" y="925.7">50</text><text x="75" y="974.3">45</text><text x="75" y="1023">40</text><text x="75" y="1071.6">35</text>
  <text x="75" y="1120.2">30</text><text x="75" y="1168.8">25</text><text x="75" y="1217.4">20</text><text x="75" y="1266">15</text>
  <text x="75" y="1306.75">2.5</text><text x="75" y="1373.6">2.0</text><text x="75" y="1440.45">1.5</text>
  <text x="75" y="1507.3">1.0</text><text x="75" y="1574.15">0.5</text><text x="75" y="1641">0.0</text>
 </g>
 <text x="876" y="925.7">1007</text><text x="876" y="982.4">1006</text><text x="876" y="1039.1">1005</text><text x="876" y="1095.9">1004</text>
 <text x="876" y="1152.6">1003</text><text x="876" y="1209.3">1002</text><text x="876" y="1266">1001</text>
 <text x="40" y="1091" text-anchor="middle" transform="rotate(-90 40 1091)">Wind</text>
 <text x="34" y="1467" text-anchor="middle" transform="rotate(-90 34 1467)">ACE</text>
 <text x="934" y="1091" text-anchor="middle" transform="rotate(-90 934 1091)">Pressure</text>
</g>

<!-- ================= BOTTOM RIGHT GRID ================= -->
<g clip-path="url(#cB)">
 <g transform="translate(970,900) scale(0.4905)" shape-rendering="crispEdges">
  <rect x="0" y="0" width="1560" height="1560" fill="#555"/>
  <polygon points="680,8 1537,8 1537,1535 165,1535 160,1470 95,1430 100,1330 110,1240 130,1190 110,1140 130,1080 130,1020 190,1000 240,940 260,900 300,800 320,720 350,680 380,600 420,560 430,520 440,480 510,440 600,430 600,390 655,360 710,330 770,320 760,260 635,255 635,235 690,235 690,200 745,200 745,140 660,140 660,80 625,80 625,50 680,50" fill="#888"/>
  <rect x="355" y="448" width="50" height="28" fill="#888"/>
  <polygon points="1005,8 1125,8 1110,130 1070,135 1060,195 1010,200 1010,225 1085,255 1040,310 1030,360 1000,420 990,520 940,530 890,560 870,700 1000,700 1040,700 1090,700 1170,730 1160,860 1100,880 1085,1000 1080,1060 1000,1090 1000,1200 960,1250 920,1280 905,1380 920,1440 915,1535 400,1535 405,1500 430,1470 420,1400 440,1340 455,1250 470,1190 440,1130 400,1100 360,1060 370,990 340,980 395,900 460,830 480,770 540,690 600,650 650,620 700,580 760,500 790,450 870,440 880,410 790,400 650,440 645,385 700,360 750,330 810,290 860,260 910,230 965,200" fill="#fff"/>
  <rect x="275" y="1015" width="50" height="32" fill="#fff"/>
  <rect x="340" y="955" width="45" height="30" fill="#fff"/>
  <rect x="440" y="922" width="45" height="30" fill="#888"/>
  <rect x="385" y="955" width="45" height="30" fill="#888"/>
  <rect x="600" y="1010" width="100" height="30" fill="#888"/>
  <polygon points="1170,8 1537,8 1537,840 1420,840 1330,880 1250,950 1150,1050 1080,1120 1030,1200 1000,1330 970,1480 1000,1535 920,1535 920,1440 905,1380 920,1280 960,1250 1000,1200 1000,1090 1080,1060 1085,1000 1100,880 1160,860 1170,730 1160,590 1150,500 1150,390 1160,200" fill="#9a9a9a"/>
  <polygon points="1121,8 1168,8 1160,100 1155,200 1150,300 1140,380 1110,400 1105,430 1060,440 1045,520 1030,575 1140,580 1160,590 1160,700 1085,700 1085,725 1040,725 1000,700 1000,670 910,680 910,700 860,700 885,560 990,520 1000,440 1030,360 1030,310 1085,255 1090,225 1010,225 1010,195 1060,195 1070,130 1105,130" fill="#000"/>
  <polygon points="1217,8 1330,8 1330,100 1310,200 1300,300 1290,340 1240,390 1200,400 1200,300 1217,200 1217,100" fill="#3c3c3c"/>
  <polygon points="1150,408 1230,408 1250,520 1240,600 1230,700 1220,780 1160,815 1130,700 1150,600" fill="#3c3c3c"/>
  <polygon points="1160,130 1217,130 1217,210 1170,215" fill="#6e6e6e"/>
  <polygon points="1130,280 1200,280 1200,350 1130,350" fill="#777"/>
  <rect x="1130" y="440" width="60" height="60" fill="#a0a0a0"/>
  <rect x="1145" y="620" width="50" height="60" fill="#a0a0a0"/>
  <polygon points="1330,8 1537,8 1537,630 1500,680 1470,720 1440,780 1380,800 1300,820 1230,830 1200,790 1230,700 1250,600 1260,520 1290,420 1300,300 1320,200" fill="#b4b4b4"/>
  <polygon points="1340,40 1430,40 1410,200 1380,350 1330,500 1290,560 1250,560 1270,450 1300,350 1320,200" fill="#c6c6c6"/>
  <polygon points="1470,8 1537,8 1537,620 1480,650 1460,500 1470,300" fill="#a4a4a4"/>
  <rect x="1200" y="420" width="80" height="60" fill="#c8c8c8"/>
  <rect x="1203" y="785" width="48" height="34" fill="#c0c0c0"/>
  <rect x="1121" y="934" width="55" height="61" fill="#c0c0c0"/>
  <rect x="1183" y="904" width="47" height="30" fill="#c0c0c0"/>
  <rect x="1210" y="673" width="47" height="112" fill="#3c3c3c"/>
  <rect x="1284" y="843" width="48" height="30" fill="#3c3c3c"/>
  <rect x="1169" y="934" width="54" height="61" fill="#3c3c3c"/>
  <rect x="1115" y="995" width="47" height="31" fill="#3c3c3c"/>
  <rect x="1340" y="810" width="50" height="30" fill="#6e6e6e"/>
  <rect x="960" y="1508" width="577" height="30" fill="#fff"/>
  <polygon points="1325,903 1372,877 1386,842 1536,842 1536,1508 962,1508 962,1488 1005,1325 1060,1203 1128,1142 1189,1087 1244,1054 1298,993" fill="#555"/>
  <polygon points="1380,839 1536,839 1536,931 1480,931 1480,870 1420,870 1385,860" fill="#888"/>
  <polygon points="1490,1019 1536,1019 1536,1257 1475,1257 1480,1130" fill="#888"/>
  <polygon points="1536,1345 1536,1434 1495,1434 1495,1460 1440,1460 1440,1480 1380,1480 1380,1508 1326,1508 1340,1480 1400,1440 1470,1390 1500,1345" fill="#888"/>
  <polygon points="924,1386 1006,1386 990,1460 975,1508 924,1508" fill="#888"/>
  <rect x="999" y="1264" width="61" height="61" fill="#888"/>
  <rect x="972" y="1115" width="47" height="155" fill="#a0a0a0"/>
  <rect x="1060" y="1160" width="50" height="40" fill="#888"/>
  <rect x="1230" y="960" width="50" height="40" fill="#888"/>
  <polygon points="1503,720 1536,720 1536,836 1430,836 1440,800 1470,781 1503,781" fill="#fff"/>
  <rect x="1520" y="958" width="16" height="88" fill="#fff"/>
  <g fill="#000">
   <rect x="1176" y="730" width="40" height="28"/><rect x="1502" y="690" width="34" height="27"/><rect x="1434" y="781" width="47" height="28"/>
   <rect x="1386" y="812" width="41" height="27"/><rect x="1332" y="843" width="48" height="27"/><rect x="1264" y="934" width="48" height="58"/>
   <rect x="1155" y="1053" width="41" height="34"/><rect x="1087" y="1114" width="48" height="34"/><rect x="1026" y="1176" width="48" height="34"/>
   <rect x="931" y="1182" width="48" height="58"/><rect x="917" y="1271" width="89" height="34"/><rect x="894" y="1305" width="57" height="88"/>
   <rect x="775" y="1485" width="95" height="30"/><rect x="669" y="1339" width="48" height="27"/>
   <rect x="1100" y="878" width="40" height="30"/>
   <rect x="860" y="880" width="100" height="60"/><rect x="830" y="1000" width="90" height="90"/><rect x="780" y="1065" width="60" height="30"/>
   <rect x="820" y="1090" width="40" height="30"/><rect x="890" y="960" width="80" height="60"/><rect x="950" y="910" width="90" height="60"/>
   <rect x="900" y="1000" width="60" height="30"/><rect x="550" y="1430" width="90" height="90"/><rect x="600" y="1395" width="55" height="40"/>
   <rect x="1460" y="660" width="45" height="28"/>
  </g>
  <g fill="#fff">
   <rect x="1196" y="1026" width="48" height="27"/><rect x="1262" y="993" width="47" height="33"/><rect x="1282" y="904" width="48" height="31"/>
   <rect x="1141" y="1087" width="41" height="27"/><rect x="1080" y="1148" width="47" height="31"/><rect x="1019" y="1209" width="47" height="61"/>
   <rect x="945" y="1304" width="50" height="82"/>
  </g>
 </g>
</g>
<rect x="973" y="903" width="750" height="750" fill="none" stroke="#000" stroke-width="2.5"/>
<rect x="987.3" y="917.3" width="180" height="32" rx="4" fill="#000"/>
<text x="994" y="940" font-size="20" font-weight="bold" fill="#fff" textLength="166" lengthAdjust="spacingAndGlyphs">WMG Count: 0</text>
</svg>
</body></html>
